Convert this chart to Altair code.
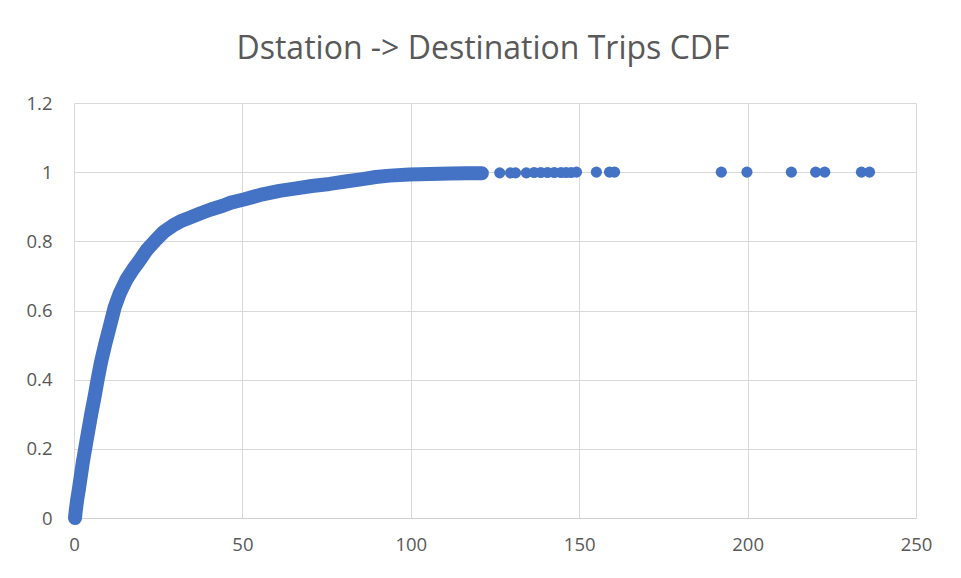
import altair as alt
import pandas as pd

# CDF of trips
trips = [0.3, 0.5, 0.9, 1.4, 2.0, 2.6, 3.3, 4.2, 5.1, 6.1, 7.0, 8.0, 9.2, 10.8,
         12.1, 13.6, 15.6, 17.6, 19.5, 21.6, 24.4, 26.6, 29.4, 31.6, 34.3, 37.6,
         40.6, 44.2, 46.6, 50.4, 56.0, 61.0, 66.0, 70.6, 75.9, 80.6, 85.7, 89.6,
         93.7, 99.6, 105.6, 111.6, 116.6, 121.1,
         126.4, 129.6, 131.1, 134.3, 136.6, 138.6, 140.6, 142.6, 144.6, 146.1,
         147.6, 149.2, 155.1, 159.0, 160.5, 192.2, 199.8, 213.0, 220.2, 222.9,
         233.8, 236.2]
cdf = [0.00, 0.02, 0.05, 0.08, 0.12, 0.16, 0.20, 0.25, 0.30, 0.35, 0.40, 0.45,
       0.50, 0.56, 0.61, 0.65, 0.69, 0.72, 0.745, 0.775, 0.805, 0.827, 0.846,
       0.858, 0.868, 0.881, 0.892, 0.903, 0.912, 0.921, 0.936, 0.946, 0.953,
       0.960, 0.966, 0.973, 0.980, 0.986, 0.990, 0.993, 0.995, 0.996, 0.997,
       0.997,
       0.998, 0.998, 0.998, 0.998, 0.999, 0.999, 0.999, 0.999, 0.999, 0.999,
       0.999, 1.0, 1.0, 1.0, 1.0, 1.0, 1.0, 1.0, 1.0, 1.0, 1.0, 1.0]
x_ticks = [0, 50, 100, 150, 200, 250]
y_ticks = [0, 0.2, 0.4, 0.6, 0.8, 1.0, 1.2]

df = pd.DataFrame({"trips": trips, "cdf": cdf})

BLUE = "#4472C4"
GRAY = "#595959"
FONT = "Open Sans"

x_enc = alt.X("trips:Q", scale=alt.Scale(domain=[0, 250], nice=False),
              axis=alt.Axis(values=x_ticks, title=None, grid=True, ticks=False,
                            labelFlush=False, labelPadding=17, domain=True,
                            domainColor="#d0d0d0"))
y_enc = alt.Y("cdf:Q", scale=alt.Scale(domain=[0, 1.2], nice=False),
              axis=alt.Axis(values=y_ticks, format="~g", title=None, grid=True,
                            ticks=False, domain=False, labelFlush=False,
                            labelPadding=22))

band = alt.Chart(df).transform_filter(alt.datum.trips <= 122).mark_line(
    color=BLUE, strokeWidth=14, strokeCap="round", strokeJoin="round"
).encode(x=x_enc, y=y_enc)

dots = alt.Chart(df).mark_circle(color=BLUE, size=125, opacity=1).encode(
    x=x_enc, y=y_enc)

chart = alt.layer(band, dots).properties(
    width=842, height=415,
    autosize=alt.AutoSizeParams(type="none"),
    padding={"left": 66, "top": 95, "right": 36, "bottom": 50},
    title=alt.TitleParams("Dstation -> Destination Trips CDF", font=FONT,
                          fontSize=32, fontWeight="normal", color=GRAY,
                          anchor="middle", offset=28, dx=-12),
    background="white",
).configure_view(stroke=None).configure_axis(
    labelFont=FONT, labelFontSize=18.5, labelColor=GRAY,
    gridColor="#d9d9d9", gridWidth=1,
)

chart.save("out.html", embed_options={"renderer": "svg", "actions": False})
